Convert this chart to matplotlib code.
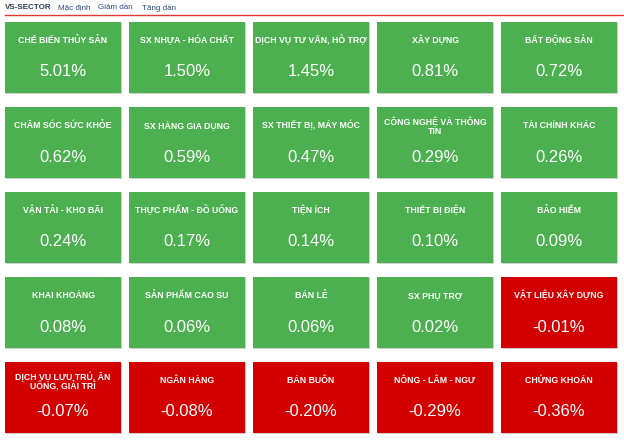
import matplotlib.pyplot as plt
from matplotlib.patches import Rectangle

# sector names and daily change (%) in display order (descending)
SECTORS = [
    'CHẾ BIẾN THỦY SẢN', 'SX NHỰA - HÓA CHẤT', 'DỊCH VỤ TƯ VẤN, HỖ TRỢ',
    'XÂY DỰNG', 'BẤT ĐỘNG SẢN',
    'CHĂM SÓC SỨC KHỎE', 'SX HÀNG GIA DỤNG', 'SX THIẾT BỊ, MÁY MÓC',
    'CÔNG NGHỆ VÀ THÔNG\nTIN', 'TÀI CHÍNH KHÁC',
    'VẬN TẢI - KHO BÃI', 'THỰC PHẨM - ĐỒ UỐNG', 'TIỆN ÍCH',
    'THIẾT BỊ ĐIỆN', 'BẢO HIỂM',
    'KHAI KHOÁNG', 'SẢN PHẨM CAO SU', 'BÁN LẺ', 'SX PHỤ TRỢ',
    'VẬT LIỆU XÂY DỰNG',
    'DỊCH VỤ LƯU TRÚ, ĂN\nUỐNG, GIẢI TRÍ', 'NGÂN HÀNG', 'BÁN BUÔN',
    'NÔNG - LÂM - NGƯ', 'CHỨNG KHOÁN',
]
CHANGES = [
    5.01, 1.50, 1.45, 0.81, 0.72,
    0.62, 0.59, 0.47, 0.29, 0.26,
    0.24, 0.17, 0.14, 0.10, 0.09,
    0.08, 0.06, 0.06, 0.02, -0.01,
    -0.07, -0.08, -0.20, -0.29, -0.36,
]
TABS = ['Mặc định', 'Giảm dần', 'Tăng dần']

GREEN = '#4caf50'
RED = '#d20000'
NCOLS = 5
TILE_W, TILE_H = 116, 71
X0, Y0 = 5, 22
DX, DY = 124, 85

LABEL_FONT = ['Liberation Sans Narrow', 'Liberation Sans', 'DejaVu Sans']
VALUE_FONT = ['Liberation Sans', 'DejaVu Sans']

fig = plt.figure(figsize=(6.24, 4.42), dpi=100)
ax = fig.add_axes([0, 0, 1, 1])
ax.set_xlim(0, 624)
ax.set_ylim(442, 0)
ax.axis('off')

# header
ax.text(5, 7.5, 'VS-SECTOR', fontsize=5.8, fontweight='bold', color='#2c3e50',
        va='center', ha='left', family=VALUE_FONT)
for x, t in zip([58, 98, 142], TABS):
    ax.text(x, 7.5, t, fontsize=5.8, color='#2a4a7a', va='center', ha='left',
            family=VALUE_FONT)
ax.plot([5, 624], [15, 15], color='#e53935', lw=1.0)

for i, (name, val) in enumerate(zip(SECTORS, CHANGES)):
    r, c = divmod(i, NCOLS)
    x = X0 + c * DX
    y = Y0 + r * DY
    color = GREEN if val >= 0 else RED
    # soft shadow
    ax.add_patch(Rectangle((x + 1, y + 1), TILE_W, TILE_H,
                           facecolor='#cfcfcf', edgecolor='none'))
    ax.add_patch(Rectangle((x, y), TILE_W, TILE_H,
                           facecolor=color, edgecolor='none'))
    lines = name.split('\n')
    if len(lines) == 1:
        ax.text(x + TILE_W / 2, y + 21, name, ha='center', va='baseline',
                fontsize=6.3, fontweight='bold', color='white',
                family=LABEL_FONT)
    else:
        for k, line in enumerate(lines):
            ax.text(x + TILE_W / 2, y + 18 + 9.5 * k, line, ha='center',
                    va='baseline', fontsize=6.3, fontweight='bold',
                    color='white', family=LABEL_FONT)
    ax.text(x + TILE_W / 2, y + 50, f'{val:.2f}%', ha='center',
            va='center', fontsize=12, color='white', family=VALUE_FONT)

fig.savefig('out.png', dpi=100, facecolor='white')
